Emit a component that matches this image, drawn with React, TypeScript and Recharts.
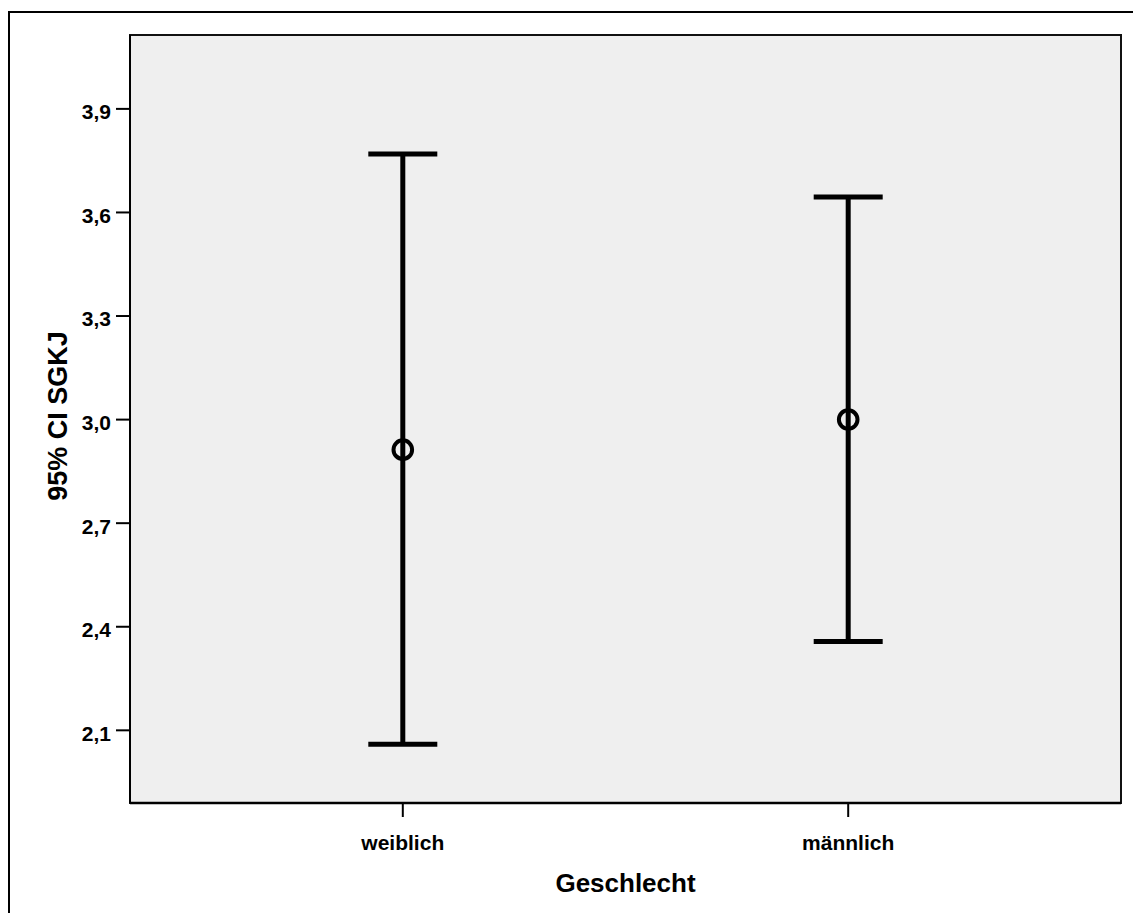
import React from "react";
import {
  ComposedChart,
  Scatter,
  ErrorBar,
  XAxis,
  YAxis,
  ReferenceArea,
} from "recharts";

const categories = ["weiblich", "männlich"];
const means = [2.913, 3.0];
const lowerCI = [2.06, 2.357];
const upperCI = [3.769, 3.645];
const yTicks = [2.1, 2.4, 2.7, 3.0, 3.3, 3.6, 3.9];

const Y_DOMAIN: [number, number] = [1.8895, 4.114];
const X_DOMAIN: [number, number] = [0.3875, 2.6125];

const data = categories.map((c, i) => ({
  x: i + 1,
  name: c,
  mean: means[i],
  err: [means[i] - lowerCI[i], upperCI[i] - means[i]],
}));

const FONT = "Arial, 'Liberation Sans', Helvetica, sans-serif";

const MeanMarker = (props: any) => {
  const { cx, cy } = props;
  if (cx == null || cy == null) return null;
  return <circle cx={cx} cy={cy} r={9.3} fill="none" stroke="#000" strokeWidth={4} />;
};

const YLabel = (props: any) => {
  const vb = props.viewBox || {};
  const x = (vb.x ?? 0) + 58;
  const y = (vb.y ?? 0) + (vb.height ?? 0) / 2 - 3;
  return (
    <text
      x={x}
      y={y}
      transform={`rotate(-90, ${x}, ${y})`}
      textAnchor="middle"
      dominantBaseline="central"
      fontFamily={FONT}
      fontWeight="bold"
      fontSize={27}
      fill="#000"
    >
      95% CI SGKJ
    </text>
  );
};

const XLabel = (props: any) => {
  const vb = props.viewBox || {};
  const x = (vb.x ?? 0) + (vb.width ?? 0) / 2;
  const y = (vb.y ?? 0) + 89;
  return (
    <text
      x={x}
      y={y}
      textAnchor="middle"
      fontFamily={FONT}
      fontWeight="bold"
      fontSize={26}
      fill="#000"
    >
      Geschlecht
    </text>
  );
};

export default function App() {
  return (
    <div
      style={{
        position: "absolute",
        left: 0,
        top: 0,
        width: 1133,
        height: 913,
        overflow: "hidden",
        background: "#fff",
      }}
    >
      <div
        style={{
          position: "absolute",
          left: 8,
          top: 11,
          width: 3000,
          height: 3000,
          borderLeft: "2px solid #000",
          borderTop: "2px solid #000",
        }}
      />
      <div style={{ position: "absolute", left: 0, top: 0 }}>
        <ComposedChart
          width={1133}
          height={913}
          data={data}
          margin={{ top: 35, right: 12, bottom: 0, left: 0 }}
        >
          <ReferenceArea
            x1={X_DOMAIN[0]}
            x2={X_DOMAIN[1]}
            y1={Y_DOMAIN[0]}
            y2={Y_DOMAIN[1]}
            fill="#efefef"
            fillOpacity={1}
            stroke="#111"
            strokeWidth={2}
          />
          <XAxis
            dataKey="x"
            type="number"
            domain={X_DOMAIN}
            ticks={[1, 2]}
            allowDataOverflow
            tickFormatter={(v: number) => categories[Math.round(v) - 1] ?? ""}
            height={110}
            tickSize={14}
            tickMargin={18}
            axisLine={{ stroke: "#000", strokeWidth: 2.5 }}
            tickLine={{ stroke: "#000", strokeWidth: 2 }}
            tick={{ fill: "#000", fontFamily: FONT, fontWeight: "bold", fontSize: 21 }}
            label={<XLabel />}
          />
          <YAxis
            type="number"
            domain={Y_DOMAIN}
            ticks={yTicks}
            allowDataOverflow
            tickFormatter={(v: number) => v.toFixed(1).replace(".", ",")}
            width={130}
            tickSize={14}
            tickMargin={5}
            axisLine={{ stroke: "#000", strokeWidth: 2 }}
            tickLine={{ stroke: "#000", strokeWidth: 2 }}
            tick={{ fill: "#000", fontFamily: FONT, fontWeight: "bold", fontSize: 21, dy: 3 }}
            label={<YLabel />}
          />
          <Scatter
            dataKey="mean"
            isAnimationActive={false}
            shape={<MeanMarker />}
          >
            <ErrorBar
              dataKey="err"
              direction="y"
              width={34.5}
              strokeWidth={5}
              stroke="#000"
              isAnimationActive={false}
            />
          </Scatter>
        </ComposedChart>
      </div>
    </div>
  );
}
